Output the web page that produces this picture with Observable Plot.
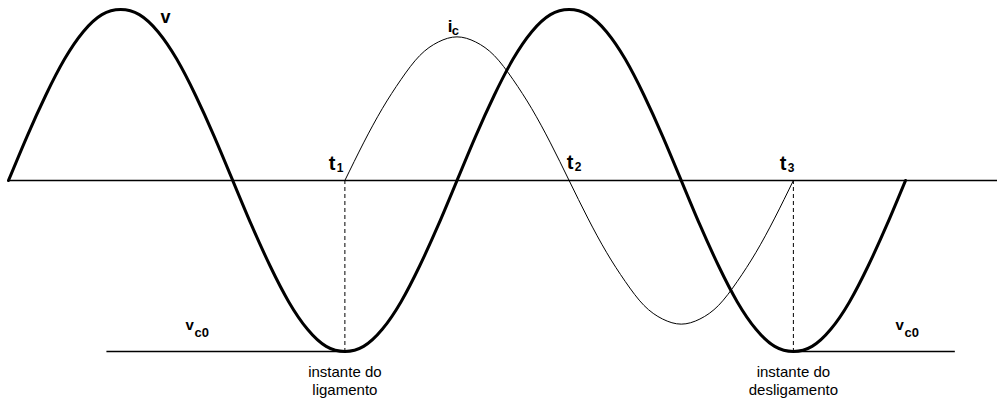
<!DOCTYPE html>
<html>
<head>
<meta charset="utf-8">
<script src="https://cdn.jsdelivr.net/npm/d3@7"></script>
<script src="https://cdn.jsdelivr.net/npm/@observablehq/plot@0.6"></script>
<style>
  html, body { margin: 0; padding: 0; background: #fff; }
  #chart svg { display: block; }
</style>
</head>
<body>
<div id="chart"></div>
<script>
// Phase angle (degrees) sampled every 15°
const vAngles = d3.range(0, 721, 15);
// Supply voltage v (normalised)
const vValues = [
  0, 0.26, 0.5, 0.71, 0.87, 0.97, 1, 0.97, 0.87, 0.71, 0.5, 0.26,
  0, -0.26, -0.5, -0.71, -0.87, -0.97, -1, -0.97, -0.87, -0.71, -0.5, -0.26,
  0, 0.26, 0.5, 0.71, 0.87, 0.97, 1, 0.97, 0.87, 0.71, 0.5, 0.26,
  0, -0.26, -0.5, -0.71, -0.87, -0.97, -1, -0.97, -0.87, -0.71, -0.5, -0.26,
  0
];
// Capacitor current i_c, from t1 (270°) to t3 (630°)
const icAngles = d3.range(270, 631, 15);
const icValues = [
  0, 0.22, 0.42, 0.59, 0.73, 0.81, 0.84, 0.81, 0.73, 0.59, 0.42, 0.22,
  0, -0.22, -0.42, -0.59, -0.73, -0.81, -0.84, -0.81, -0.73, -0.59, -0.42, -0.22,
  0
];
// Time axis extent (degrees)
const axisExtent = [0, 794];
// Initial capacitor voltage level v_c0 and its two segments (degrees)
const vc0Level = -1;
const vc0Segments = [[79, 270], [630, 760]];
// Switching instants t1 (switch-on) and t3 (switch-off)
const switchAngles = [270, 630];

// Labels (position in data units)
const mainLabels = [
  {text: "v", x: 122, y: 0.92},
  {text: "i", x: 352.5, y: 0.87}
];
const tLabels = [
  {text: "t", sub: "1", x: 257, y: 0.06},
  {text: "t", sub: "2", x: 448, y: 0.07},
  {text: "t", sub: "3", x: 619, y: 0.06}
];
const vc0Labels = [
  {text: "v", sub: "c0", x: 142, y: -0.877},
  {text: "v", sub: "c0", x: 712, y: -0.877}
];
const instantLabels = [
  {line1: "instante do", line2: "ligamento", x: 270},
  {line1: "instante do", line2: "desligamento", x: 630}
];
const instantLineY = [-1.152, -1.255];

const vData = vAngles.map((a, i) => ({a, v: vValues[i]}));
const icData = icAngles.map((a, i) => ({a, v: icValues[i]}));
const vc0Data = vc0Segments.map(([x1, x2]) => ({x1, x2, y: vc0Level}));

const font = "'Liberation Sans', Arial, sans-serif";

const plot = Plot.plot({
  width: 997,
  height: 403,
  margin: 0,
  style: {background: "#fff", fontFamily: font},
  x: {domain: [0, 720], range: [8, 905], axis: null},
  y: {domain: [-1, 1], range: [351, 9], axis: null},
  marks: [
    Plot.ruleY([0], {x1: axisExtent[0], x2: axisExtent[1], stroke: "#000", strokeWidth: 1.3}),
    Plot.ruleX(switchAngles, {y1: 0, y2: vc0Level, stroke: "#000", strokeWidth: 1, strokeDasharray: "4,3"}),
    Plot.ruleY(vc0Data, {y: "y", x1: "x1", x2: "x2", stroke: "#000", strokeWidth: 1.3}),
    Plot.line(icData, {x: "a", y: "v", curve: "natural", stroke: "#000", strokeWidth: 1}),
    Plot.line(vData, {x: "a", y: "v", curve: "natural", stroke: "#000", strokeWidth: 3}),
    // v label
    Plot.text([mainLabels[0]], {x: "x", y: "y", text: "text", textAnchor: "start", lineAnchor: "bottom", fontSize: 18, fontWeight: "bold", fill: "#000"}),
    // i_c label
    Plot.text([mainLabels[1]], {x: "x", y: "y", text: "text", textAnchor: "start", lineAnchor: "bottom", fontSize: 17, fontWeight: "bold", fill: "#000"}),
    Plot.text([mainLabels[1]], {x: "x", y: "y", text: () => "c", textAnchor: "start", lineAnchor: "bottom", dx: 4, dy: 3, fontSize: 13, fontWeight: "bold", fill: "#000"}),
    // t labels
    Plot.text(tLabels, {x: "x", y: "y", text: "text", textAnchor: "start", lineAnchor: "bottom", fontSize: 20, fontWeight: "bold", fill: "#000"}),
    Plot.text(tLabels, {x: "x", y: "y", text: "sub", textAnchor: "start", lineAnchor: "bottom", dx: 8, dy: 2, fontSize: 12, fontWeight: "bold", fill: "#000"}),
    // v_c0 labels
    Plot.text(vc0Labels, {x: "x", y: "y", text: "text", textAnchor: "start", lineAnchor: "bottom", fontSize: 15, fontWeight: "bold", fill: "#000"}),
    Plot.text(vc0Labels, {x: "x", y: "y", text: "sub", textAnchor: "start", lineAnchor: "bottom", dx: 9, dy: 7, fontSize: 13, fontWeight: "bold", fill: "#000"}),
    // instant labels
    Plot.text(instantLabels, {x: "x", y: () => instantLineY[0], text: "line1", textAnchor: "middle", lineAnchor: "bottom", fontSize: 15, fill: "#000"}),
    Plot.text(instantLabels, {x: "x", y: () => instantLineY[1], text: "line2", textAnchor: "middle", lineAnchor: "bottom", fontSize: 15, fill: "#000"})
  ]
});
document.getElementById("chart").appendChild(plot);
</script>
</body>
</html>
